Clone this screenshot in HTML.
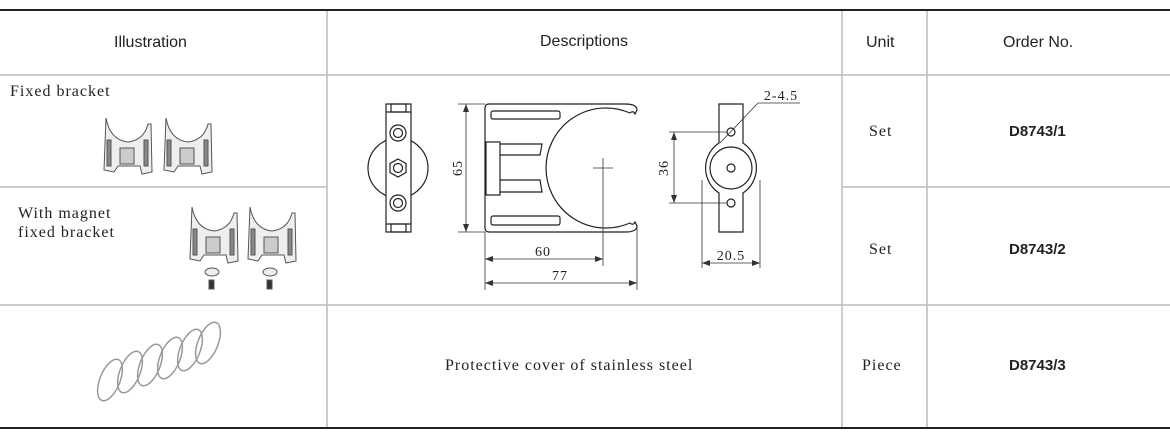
<!DOCTYPE html>
<html><head><meta charset="utf-8"><style>
body{margin:0;width:1170px;height:440px;background:#fff;overflow:hidden;position:relative;font-family:"Liberation Serif",serif;}
.t{position:absolute;white-space:nowrap;color:#222;}
.h{font-family:"Liberation Sans",sans-serif;font-size:16px;}
.s{font-size:16px;letter-spacing:1px;}
.b{font-family:"Liberation Sans",sans-serif;font-weight:bold;font-size:15px;}
</style></head><body>
<svg width="1170" height="440" style="position:absolute;left:0;top:0">
<g stroke="#bbb" stroke-width="1.5">
<line x1="0" y1="75" x2="1170" y2="75"/>
<line x1="0" y1="187" x2="327" y2="187"/>
<line x1="842" y1="187" x2="1170" y2="187"/>
<line x1="0" y1="305" x2="1170" y2="305"/>
<line x1="327" y1="10" x2="327" y2="428"/>
<line x1="842" y1="10" x2="842" y2="428"/>
<line x1="927" y1="10" x2="927" y2="428"/>
</g>
<line x1="0" y1="10" x2="1170" y2="10" stroke="#222" stroke-width="2"/>
<line x1="0" y1="428" x2="1170" y2="428" stroke="#222" stroke-width="2"/>
<g fill="none" stroke="#222" stroke-width="1.2">
<circle cx="398" cy="168" r="30" fill="#fff"/>
<rect x="386" y="104" width="25" height="128" fill="#fff"/>
<rect x="391" y="104" width="15" height="8"/><rect x="391" y="224" width="15" height="8"/>
<line x1="386" y1="112" x2="411" y2="112"/><line x1="386" y1="224" x2="411" y2="224"/>
<circle cx="398" cy="133" r="8"/><circle cx="398" cy="133" r="4.5"/>
<circle cx="398" cy="203" r="8"/><circle cx="398" cy="203" r="4.5"/>
<polygon points="398,159 406,163.5 406,172.5 398,177 390,172.5 390,163.5"/><circle cx="398" cy="168" r="4.5"/>
<path d="M489,104 L625,104 Q637,104 637,110 L635,114 Q633,110 630,113 A60,60 0 1 0 630,223 Q633,226 635,222 L637,226 Q637,232 625,232 L489,232 Q485,232 485,228 L485,108 Q485,104 489,104 Z"/>
<rect x="491" y="111" width="69" height="8" rx="2"/>
<rect x="491" y="216" width="69" height="9" rx="2"/>
<rect x="486" y="142" width="14" height="53"/>
<path d="M500,144 L542,144 L540,155 L500,155"/>
<path d="M500,180 L540,180 L542,192 L500,192"/>
<path d="M719,104 L743,104 L743,143 A30,30 0 0 1 743,193 L743,232 L719,232 L719,193 A30,30 0 0 1 719,143 Z"/>
<circle cx="731" cy="168" r="21"/><circle cx="731" cy="168" r="4"/>
<circle cx="731" cy="132" r="4"/><circle cx="731" cy="203" r="4"/>
</g>
<g stroke="#333" stroke-width="0.8" fill="none">
<line x1="458" y1="104" x2="485" y2="104"/><line x1="458" y1="232" x2="485" y2="232"/>
<line x1="466" y1="104" x2="466" y2="232"/>
<line x1="485" y1="232" x2="485" y2="290"/><line x1="637" y1="225" x2="637" y2="290"/>
<line x1="603" y1="158" x2="603" y2="266"/><line x1="593" y1="168" x2="613" y2="168"/>
<line x1="485" y1="259" x2="603" y2="259"/><line x1="485" y1="283" x2="637" y2="283"/>
<line x1="669" y1="132" x2="727" y2="132"/><line x1="669" y1="203" x2="727" y2="203"/>
<line x1="674" y1="132" x2="674" y2="203"/>
<line x1="702" y1="180" x2="702" y2="268"/><line x1="760" y1="180" x2="760" y2="268"/>
<line x1="702" y1="263" x2="760" y2="263"/>
<line x1="720" y1="143" x2="758" y2="103"/><line x1="758" y1="103" x2="800" y2="103"/>
</g>
<g fill="#333">
<polygon points="466,104 463,112 469,112"/><polygon points="466,232 463,224 469,224"/>
<polygon points="485,259 493,256 493,262"/><polygon points="603,259 595,256 595,262"/>
<polygon points="485,283 493,280 493,286"/><polygon points="637,283 629,280 629,286"/>
<polygon points="674,132 671,140 677,140"/><polygon points="674,203 671,195 677,195"/>
<polygon points="702,263 710,260 710,266"/><polygon points="760,263 752,260 752,266"/>
</g>
<g font-family="Liberation Serif,serif" font-size="14" fill="#222" letter-spacing="1">
<text x="543" y="256" text-anchor="middle">60</text>
<text x="560" y="280" text-anchor="middle">77</text>
<text x="731" y="260" text-anchor="middle">20.5</text>
<text x="781" y="100" text-anchor="middle">2-4.5</text>
<text transform="translate(462,168) rotate(-90)" text-anchor="middle">65</text>
<text transform="translate(668,168) rotate(-90)" text-anchor="middle">36</text>
</g>
<g fill="#eee" stroke="#555" stroke-width="1">
<g id="br"><path d="M106,118 Q110,140 128,142 Q144,140 148,124 L151,124 L152,172 L142,174 L140,166 L118,166 L114,172 L104,170 Z"/>
<rect x="107" y="140" width="4" height="26" fill="#888"/><rect x="144" y="140" width="4" height="26" fill="#888"/>
<rect x="120" y="148" width="14" height="16" fill="#ccc"/></g>
<use href="#br" transform="translate(60,0)"/>
<use href="#br" transform="translate(86,89)"/>
<use href="#br" transform="translate(144,89)"/>
<ellipse cx="212" cy="272" rx="7" ry="4"/><ellipse cx="270" cy="272" rx="7" ry="4"/>
<rect x="209" y="280" width="5" height="9" fill="#333"/><rect x="267" y="280" width="5" height="9" fill="#333"/>
</g>
<g fill="none" stroke="#999" stroke-width="1.5">
<ellipse cx="110" cy="380" rx="10" ry="22" transform="rotate(22 110 380)"/>
<ellipse cx="130" cy="372" rx="10" ry="22" transform="rotate(22 130 372)"/>
<ellipse cx="150" cy="365" rx="10" ry="22" transform="rotate(22 150 365)"/>
<ellipse cx="170" cy="358" rx="10" ry="22" transform="rotate(22 170 358)"/>
<ellipse cx="190" cy="350" rx="10" ry="22" transform="rotate(22 190 350)"/>
<ellipse cx="208" cy="343" rx="10" ry="22" transform="rotate(22 208 343)"/>
</g>
</svg>
<div class="t h" style="left:114px;top:34px">Illustration</div>
<div class="t h" style="left:540px;top:33px">Descriptions</div>
<div class="t h" style="left:866px;top:34px">Unit</div>
<div class="t h" style="left:1003px;top:34px">Order No.</div>
<div class="t s" style="left:10px;top:83px">Fixed bracket</div>
<div class="t s" style="left:18px;top:204px;line-height:19px">With magnet<br>fixed bracket</div>
<div class="t s" style="left:869px;top:123px">Set</div>
<div class="t s" style="left:869px;top:241px">Set</div>
<div class="t s" style="left:862px;top:357px">Piece</div>
<div class="t b" style="left:1009px;top:123px">D8743/1</div>
<div class="t b" style="left:1009px;top:241px">D8743/2</div>
<div class="t b" style="left:1009px;top:357px">D8743/3</div>
<div class="t s" style="left:445px;top:357px">Protective cover of stainless steel</div>
</body></html>
